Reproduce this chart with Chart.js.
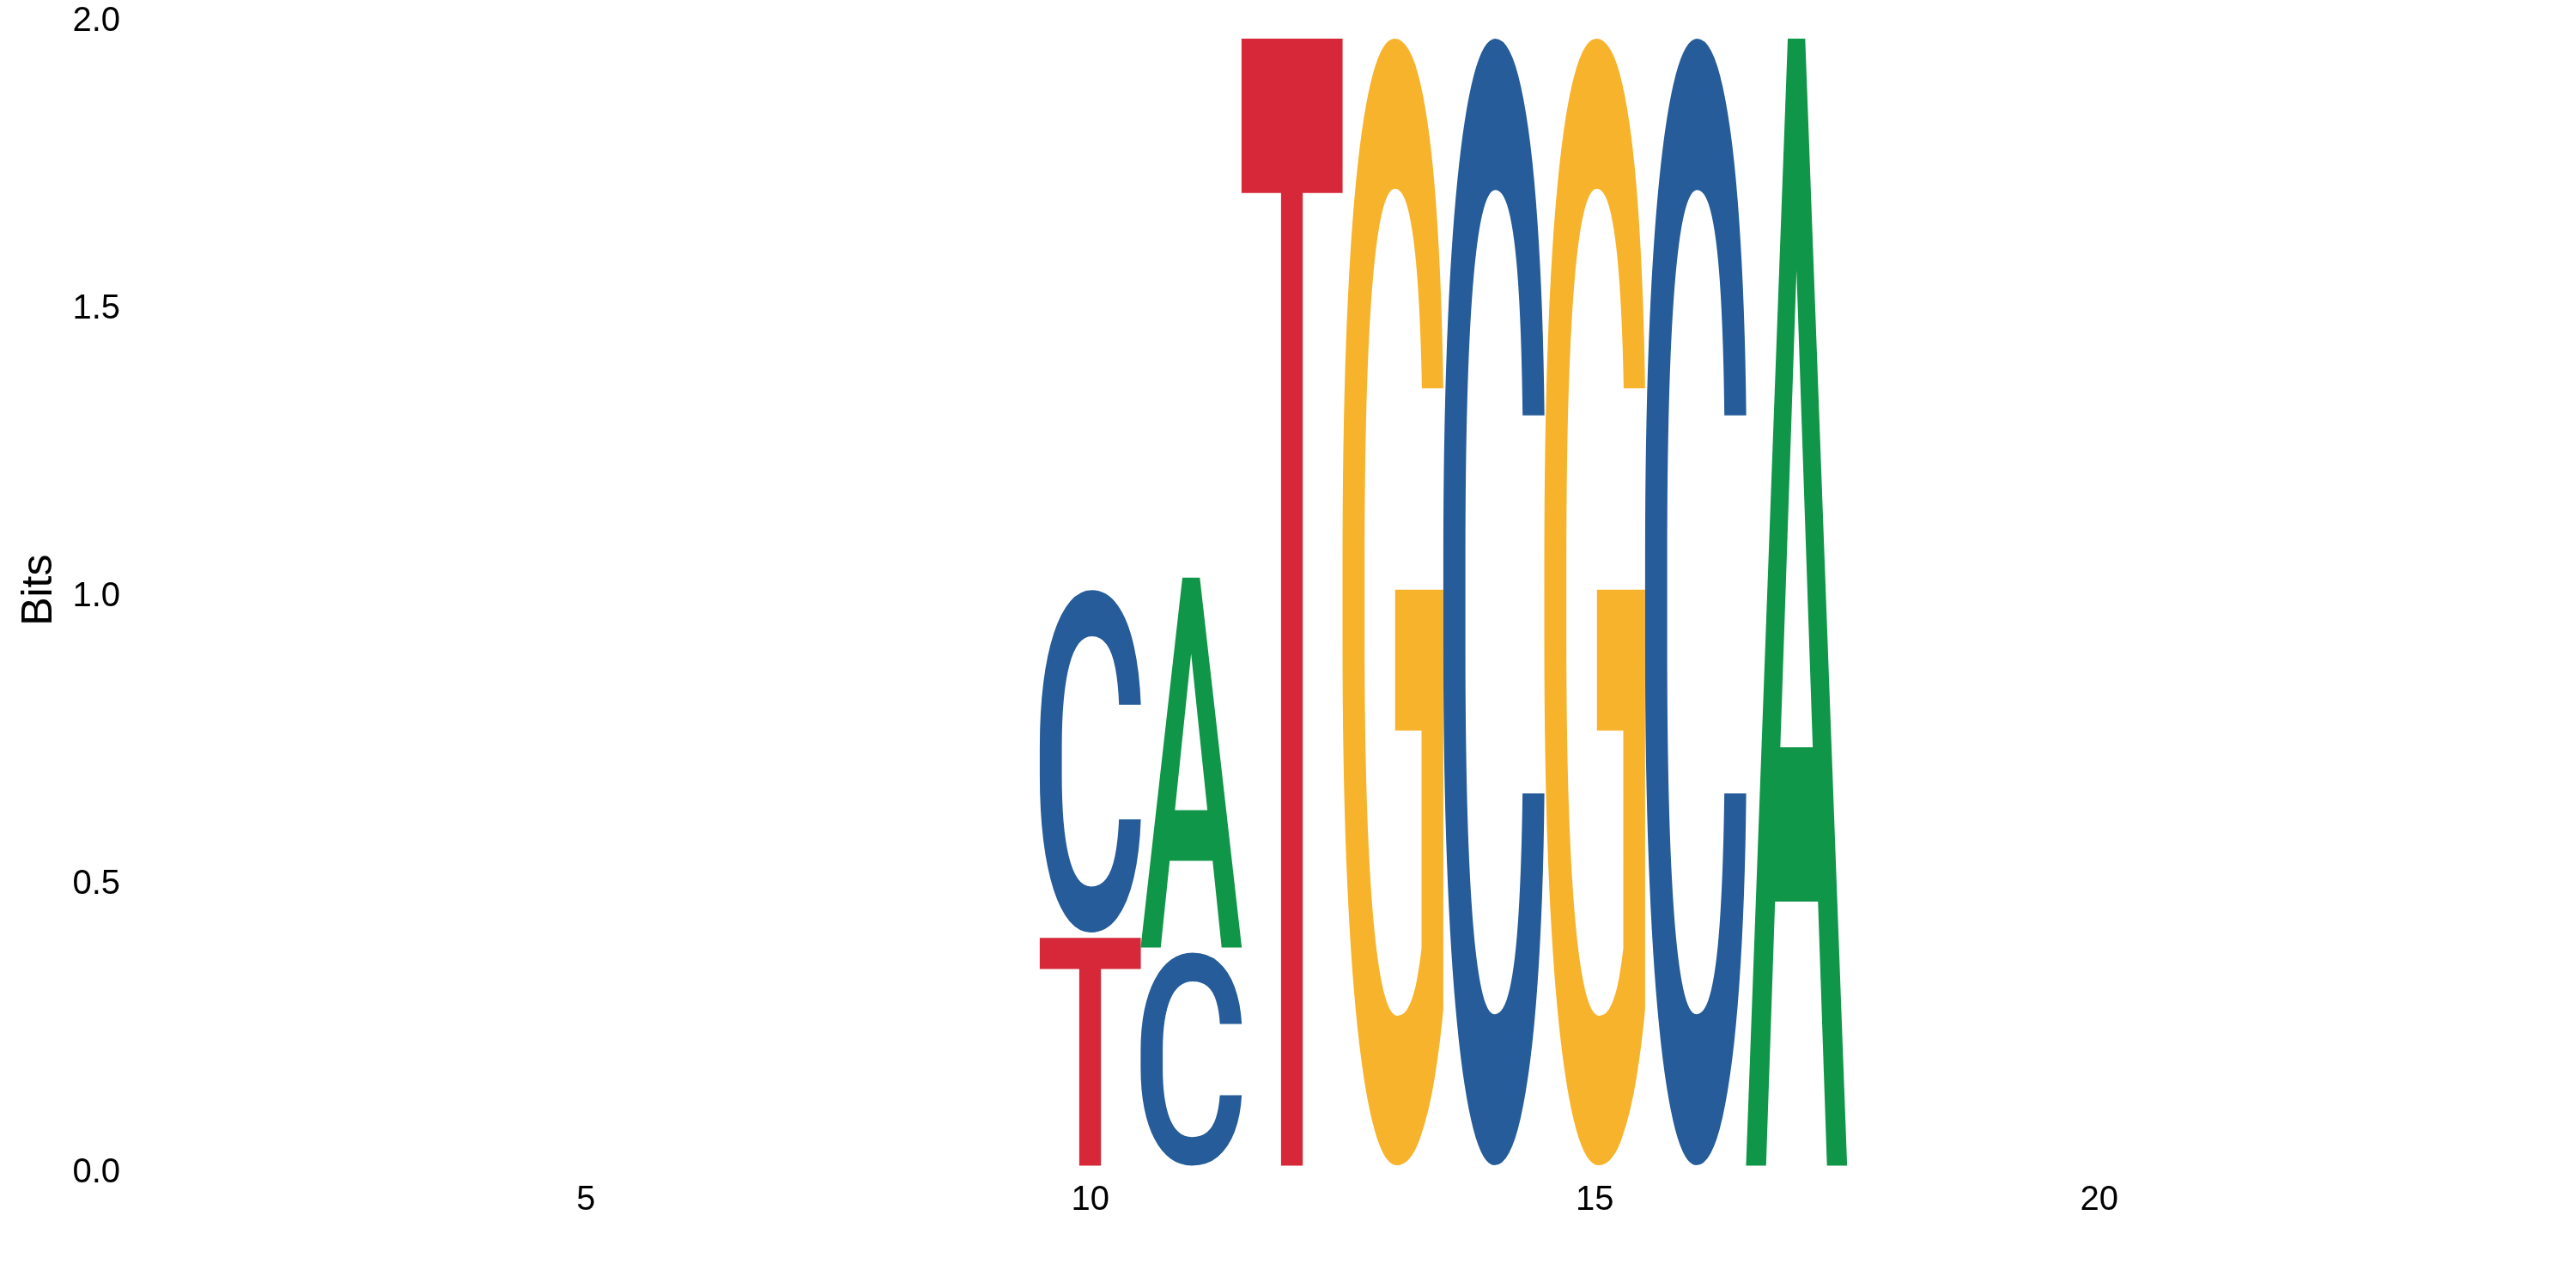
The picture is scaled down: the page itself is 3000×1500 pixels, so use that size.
<!DOCTYPE html>
<html>
<head>
<meta charset="utf-8">
<script src="https://cdn.jsdelivr.net/npm/chart.js@4.4.1/dist/chart.umd.min.js"></script>
<style>
  html, body { margin: 0; padding: 0; background: #ffffff; }
  canvas { display: block; }
</style>
</head>
<body>
<canvas id="logo" width="3000" height="1500" style="width:3000px;height:1500px"></canvas>
<script>
// ---- data (information content in bits per letter, per position) ----
const positions = [1,2,3,4,5,6,7,8,9,10,11,12,13,14,15,16,17,18,19,20,21,22,23,24];
const heightA = [0,0,0,0,0,0,0,0,0,0,0.652,0,0,0,0,0,1.959,0,0,0,0,0,0,0];
const heightC = [0,0,0,0,0,0,0,0,0,0.604,0.370,0,0,1.959,0,1.959,0,0,0,0,0,0,0,0];
const heightG = [0,0,0,0,0,0,0,0,0,0,0,0,1.959,0,1.959,0,0,0,0,0,0,0,0,0];
const heightT = [0,0,0,0,0,0,0,0,0,0.396,0,1.959,0,0,0,0,0,0,0,0,0,0,0,0];
const letters = ['A','C','G','T'];
const xTicks = [5,10,15,20];
const xTickLabels = ['5','10','15','20'];
const yTicks = [0,0.5,1,1.5,2];
const yTickLabels = ['0.0','0.5','1.0','1.5','2.0'];
const yTitle = 'Bits';

// ---- styles ----
const letterColors = { A: '#109648', C: '#255C99', G: '#F7B32B', T: '#D62839' };
const glyphSize = 800;
const glyphFont = '500 ' + glyphSize + 'px Roboto, "Liberation Sans", Arial, sans-serif';
const gapPx = 6;

// ---- build stacked datasets by rank (smallest at bottom) ----
const heightsByLetter = { A: heightA, C: heightC, G: heightG, T: heightT };
const ranked = positions.map((p, i) => letters
  .map(l => ({ l, h: heightsByLetter[l][i] }))
  .sort((a, b) => a.h - b.h));
const datasets = [0,1,2,3].map(r => ({
  label: 'rank' + r,
  data: positions.map((p, i) => ({ x: p, y: ranked[i][r].h })),
  letters: positions.map((p, i) => ranked[i][r].h > 0 ? ranked[i][r].l : null),
  backgroundColor: 'rgba(0,0,0,0)',
  borderWidth: 0,
  barPercentage: 1.0,
  categoryPercentage: 1.0
}));

// exact ink bounding box of each glyph, found by rendering it off-screen
const glyphBoxes = {};
function glyphBox(ch) {
  if (glyphBoxes[ch]) return glyphBoxes[ch];
  const W = 1400, H = 1400, ox = 300, oy = 1100;
  const cv = document.createElement('canvas');
  cv.width = W; cv.height = H;
  const c = cv.getContext('2d', { willReadFrequently: true });
  c.font = glyphFont; c.textAlign = 'left'; c.textBaseline = 'alphabetic';
  c.fillStyle = '#000';
  c.fillText(ch, ox, oy);
  const d = c.getImageData(0, 0, W, H).data;
  let x0 = W, x1 = -1, y0 = H, y1 = -1;
  for (let y = 0; y < H; y++) {
    for (let x = 0; x < W; x++) {
      if (d[(y * W + x) * 4 + 3] >= 128) {
        if (x < x0) x0 = x; if (x > x1) x1 = x;
        if (y < y0) y0 = y; if (y > y1) y1 = y;
      }
    }
  }
  const box = { left: x0 - ox, top: y0 - oy, w: x1 + 1 - x0, h: y1 + 1 - y0 };
  glyphBoxes[ch] = box;
  return box;
}

function drawLetter(ctx, ch, color, left, top, w, h) {
  const b = glyphBox(ch);
  ctx.save();
  ctx.font = glyphFont;
  ctx.textAlign = 'left';
  ctx.textBaseline = 'alphabetic';
  ctx.translate(left, top);
  ctx.scale(w / b.w, h / b.h);
  ctx.fillStyle = color;
  ctx.fillText(ch, -b.left, -b.top);
  ctx.restore();
}

const logoPlugin = {
  id: 'logoLetters',
  afterDatasetsDraw(chart) {
    const ctx = chart.ctx;
    const zeroPx = chart.scales.y.getPixelForValue(0);
    chart.data.datasets.forEach((ds, di) => {
      const meta = chart.getDatasetMeta(di);
      meta.data.forEach((el, i) => {
        const ch = ds.letters[i];
        if (!ch) return;
        const p = el.getProps(['x', 'y', 'base', 'width'], true);
        let top = Math.min(p.y, p.base), bottom = Math.max(p.y, p.base);
        if (bottom - top < 0.5) return;
        if (bottom < zeroPx - 0.5) bottom -= gapPx;
        drawLetter(ctx, ch, letterColors[ch], p.x - p.width / 2, top, p.width, bottom - top);
      });
    });
  }
};

Chart.defaults.color = '#000000';
Chart.defaults.font.family = '"Liberation Sans", Arial, Helvetica, sans-serif';

new Chart(document.getElementById('logo'), {
  type: 'bar',
  data: { datasets },
  plugins: [logoPlugin],
  options: {
    responsive: false,
    devicePixelRatio: 1,
    animation: false,
    layout: { padding: { top: 16.9, right: 26.5, bottom: 80, left: 0 } },
    plugins: { legend: { display: false }, tooltip: { enabled: false } },
    scales: {
      x: {
        type: 'linear',
        stacked: true,
        offset: false,
        min: 0.5,
        max: 24.5,
        grid: { display: false, drawTicks: false },
        border: { display: false },
        afterBuildTicks: s => { s.ticks = xTicks.map(v => ({ value: v })); },
        afterFit: s => { s.height = 62.5; s.paddingLeft = 0; s.paddingRight = 0; },
        ticks: {
          padding: 16,
          maxRotation: 0,
          autoSkip: false,
          font: { size: 40 },
          callback: v => xTickLabels[xTicks.indexOf(v)]
        }
      },
      y: {
        type: 'linear',
        stacked: true,
        min: 0,
        max: 2,
        grid: { display: false, drawTicks: false },
        border: { display: false },
        afterBuildTicks: s => { s.ticks = yTicks.map(v => ({ value: v })); },
        afterFit: s => { s.width = 153.5; s.paddingTop = 0; s.paddingBottom = 0; },
        ticks: {
          padding: 13.5,
          labelOffset: 8,
          autoSkip: false,
          font: { size: 40 },
          callback: v => yTickLabels[yTicks.indexOf(v)]
        },
        title: {
          display: true,
          text: yTitle,
          font: { size: 50 },
          padding: { top: 16, bottom: 8 }
        }
      }
    }
  }
});
</script>
</body>
</html>
